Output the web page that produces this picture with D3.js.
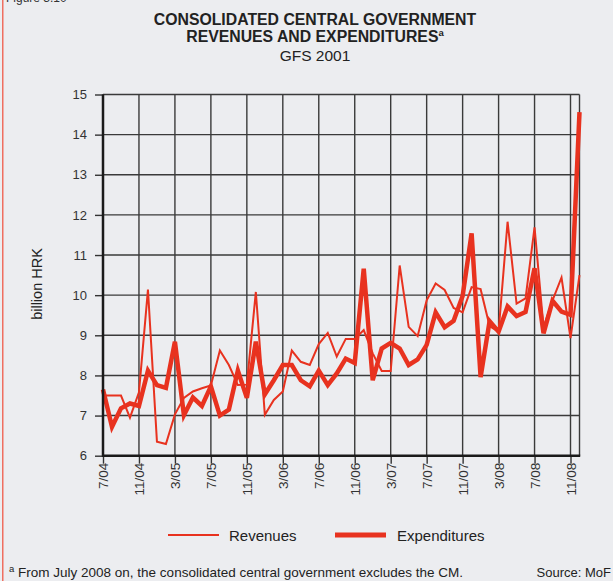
<!DOCTYPE html>
<html><head><meta charset="utf-8">
<script src="https://cdn.jsdelivr.net/npm/d3@7"></script>
<style>
html,body{margin:0;padding:0;background:#ecedf0;}
svg{display:block;font-family:"Liberation Sans",Arial,sans-serif;}
</style></head>
<body><svg id="c" width="613" height="581"></svg>
<script>
const months = ["7/04","8/04","9/04","10/04","11/04","12/04","1/05","2/05","3/05","4/05","5/05","6/05",
"7/05","8/05","9/05","10/05","11/05","12/05","1/06","2/06","3/06","4/06","5/06","6/06",
"7/06","8/06","9/06","10/06","11/06","12/06","1/07","2/07","3/07","4/07","5/07","6/07",
"7/07","8/07","9/07","10/07","11/07","12/07","1/08","2/08","3/08","4/08","5/08","6/08",
"7/08","8/08","9/08","10/08","11/08","12/08"];
const revenues = [7.5,7.5,7.5,6.95,7.58,10.14,6.35,6.29,7.03,7.44,7.6,7.68,
7.75,8.62,8.26,7.76,7.77,10.08,7.02,7.39,7.6,8.62,8.34,8.26,
8.78,9.06,8.47,8.91,8.91,9.13,8.55,8.11,8.11,10.74,9.21,8.98,
9.87,10.29,10.13,9.68,9.57,10.2,10.15,9.23,9.09,11.83,9.79,9.92,
11.69,9.2,9.87,10.44,8.93,10.5];
const expenditures = [7.65,6.72,7.18,7.3,7.24,8.12,7.76,7.69,8.84,7.01,7.45,7.24,
7.73,7.0,7.15,8.12,7.44,8.84,7.53,7.88,8.26,8.26,7.88,7.73,
8.12,7.76,8.05,8.42,8.31,10.66,7.88,8.67,8.81,8.67,8.26,8.4,
8.76,9.57,9.2,9.36,9.98,11.54,7.96,9.35,9.09,9.72,9.48,9.58,
10.67,9.05,9.86,9.59,9.51,14.56];
const xTickLabels = ["7/04","11/04","3/05","7/05","11/05","3/06","7/06","11/06","3/07","7/07","11/07","3/08","7/08","11/08"];
const yTicks = [6,7,8,9,10,11,12,13,14,15];
const seriesNames = ["Revenues","Expenditures"];

const red = "#e8321f";
const svg = d3.select("#c");
const L = 103, R = 579.5, T = 94.5, B = 455.7;
const x = d3.scalePoint().domain(months).range([L, R]);
const y = d3.scaleLinear().domain([6, 15]).range([B, T]);

// left border
svg.append("rect").attr("x", 2).attr("y", 0).attr("width", 1.5).attr("height", 581).attr("fill", "#ef6f60");
svg.append("text").attr("x", 6).attr("y", 2).attr("font-size", 12).attr("fill", "#333").text("Figure 3.10");

// titles
const cx = 315;
svg.append("text").attr("x", cx).attr("y", 25).attr("text-anchor", "middle").attr("font-size", 15.8)
  .attr("font-weight", "bold").attr("fill", "#222").text("CONSOLIDATED CENTRAL GOVERNMENT");
const t2 = svg.append("text").attr("x", cx).attr("y", 42).attr("text-anchor", "middle").attr("font-size", 15.8)
  .attr("font-weight", "bold").attr("fill", "#222");
t2.append("tspan").text("REVENUES AND EXPENDITURES");
t2.append("tspan").attr("font-size", 9.5).attr("dy", -6).text("a");
svg.append("text").attr("x", cx).attr("y", 61).attr("text-anchor", "middle").attr("font-size", 15.5)
  .attr("fill", "#222").text("GFS 2001");

// grid
const g = svg.append("g");
g.selectAll(".hg").data(yTicks).enter().append("line")
  .attr("x1", L).attr("x2", R).attr("y1", d => y(d)).attr("y2", d => y(d))
  .attr("stroke", "#3a3a3a").attr("stroke-width", 1.4);
g.selectAll(".vg").data(xTickLabels).enter().append("line")
  .attr("x1", d => x(d)).attr("x2", d => x(d)).attr("y1", T).attr("y2", B)
  .attr("stroke", "#3a3a3a").attr("stroke-width", 1.4);
g.append("line").attr("x1", R).attr("x2", R).attr("y1", T).attr("y2", B)
  .attr("stroke", "#3a3a3a").attr("stroke-width", 1.4);

// axes
const ya = d3.axisLeft(y).tickValues(yTicks).tickSize(8).tickPadding(8).tickFormat(d3.format("d"));
const yg = svg.append("g").attr("transform", `translate(${L},0)`).call(ya);
yg.select(".domain").remove();
yg.selectAll(".tick line").attr("stroke", "#333").attr("stroke-width", 1.4);
yg.selectAll(".tick text").attr("font-size", 13).attr("fill", "#333").attr("font-family", "Liberation Sans, Arial, sans-serif");

const xa = d3.axisBottom(x).tickValues(xTickLabels).tickSize(8).tickPadding(8);
const xg = svg.append("g").attr("transform", `translate(0,${B})`).call(xa);
xg.select(".domain").remove();
xg.selectAll(".tick line").attr("stroke", "#333").attr("stroke-width", 1.4);
xg.selectAll(".tick text").attr("font-size", 13.5).attr("fill", "#333").attr("font-family", "Liberation Sans, Arial, sans-serif")
  .attr("transform", "rotate(-90)").attr("text-anchor", "end").attr("dy", "0.35em").attr("x", -7).attr("y", 0);

// data lines
const line = d3.line().x((d, i) => x(months[i])).y(d => y(d));
svg.append("path").datum(revenues).attr("d", line).attr("fill", "none").attr("stroke", red).attr("stroke-width", 2);
svg.append("path").datum(expenditures).attr("d", line).attr("fill", "none").attr("stroke", red).attr("stroke-width", 4.5);

// axis lines
svg.append("line").attr("x1", L).attr("x2", L).attr("y1", T).attr("y2", B + 1).attr("stroke", "#1a1a1a").attr("stroke-width", 2.5);
svg.append("line").attr("x1", L - 1).attr("x2", R + 0.7).attr("y1", B).attr("y2", B).attr("stroke", "#1a1a1a").attr("stroke-width", 2.5);

// y label
svg.append("text").attr("transform", "translate(42,284) rotate(-90)").attr("text-anchor", "middle")
  .attr("font-size", 14.5).attr("fill", "#222").text("billion HRK");

// legend
const lg = svg.append("g");
lg.append("line").attr("x1", 168).attr("x2", 219).attr("y1", 535).attr("y2", 535).attr("stroke", red).attr("stroke-width", 2);
lg.append("text").attr("x", 229).attr("y", 540.5).attr("font-size", 15).attr("fill", "#222").text(seriesNames[0]);
lg.append("line").attr("x1", 335).attr("x2", 386).attr("y1", 535).attr("y2", 535).attr("stroke", red).attr("stroke-width", 5);
lg.append("text").attr("x", 397).attr("y", 540.5).attr("font-size", 15).attr("fill", "#222").text(seriesNames[1]);

// footnote
const fn = svg.append("text").attr("x", 9).attr("y", 577).attr("font-size", 13.5).attr("fill", "#222");
fn.append("tspan").attr("font-size", 9.5).attr("dy", -5).text("a");
fn.append("tspan").attr("dy", 5).text(" From July 2008 on, the consolidated central government excludes the CM.");
svg.append("text").attr("x", 611).attr("y", 577).attr("text-anchor", "end").attr("font-size", 13).attr("fill", "#222").text("Source: MoF");
</script></body></html>
